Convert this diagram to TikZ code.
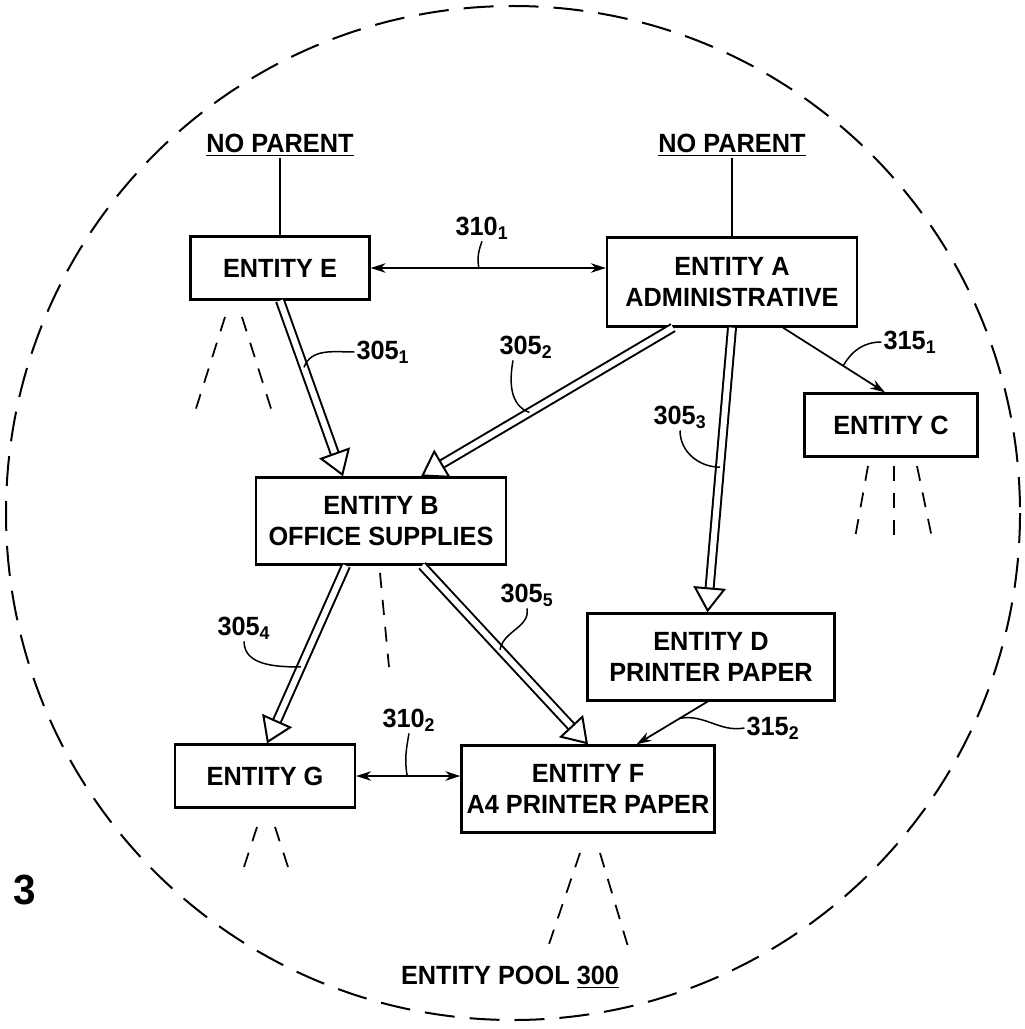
\documentclass[tikz,border=0pt]{standalone}
\usepackage{fontspec}
\setmainfont{Liberation Sans}[FakeStretch=0.96]
\usepackage{tikz}
\usetikzlibrary{arrows.meta,positioning,calc}

\begin{document}
\begin{tikzpicture}[x=0.2mm, y=-0.2mm,
    box/.style={draw, line width=0.45mm, align=center, inner sep=0pt,
      font=\fontsize{15}{18}\selectfont\bfseries},
    tag/.style={font=\fontsize{15}{18}\selectfont\bfseries, inner sep=1pt},
    hollow/.style={double, double distance=1.2mm, line width=0.4mm,
      -{Triangle[open, length=5mm, width=6.5mm, line width=0.4mm]}},
    link/.style={line width=0.35mm, -{Stealth[length=3mm, width=1.9mm]}},
    twoway/.style={line width=0.35mm,
      {Stealth[length=3mm, width=1.9mm]}-{Stealth[length=3mm, width=1.9mm]}},
    lead/.style={line width=0.3mm},
    kids/.style={line width=0.35mm, dash pattern=on 3mm off 2.4mm},
    pool/.style={line width=0.4mm, dash pattern=on 6mm off 3mm}]

  % entity pool boundary
  \useasboundingbox (0,0) rectangle (1025,1029);
  \draw[pool] (513,513) circle[radius=507];
  \node[font=\fontsize{24}{28}\selectfont\bfseries] (fig) at (25,890) {3};
  \node[tag] (poolname) at (510,977) {ENTITY POOL \underline{300}};

  % entities
  \node[tag] (np1) at (280,145) {\underline{NO PARENT}};
  \node[tag] (np2) at (732,145) {\underline{NO PARENT}};
  \node[box, minimum width=35.8mm, minimum height=12.6mm] (e) at (280,268) {ENTITY E};
  \node[box, minimum width=50mm, minimum height=17.8mm] (a) at (732,282) {ENTITY A\\ADMINISTRATIVE};
  \node[box, minimum width=34.6mm, minimum height=12.6mm] (c) at (891,425) {ENTITY C};
  \node[box, minimum width=50mm, minimum height=17.4mm] (b) at (381,521) {ENTITY B\\OFFICE SUPPLIES};
  \node[box, minimum width=49.4mm, minimum height=17.4mm] (d) at (711,657) {ENTITY D\\PRINTER PAPER};
  \node[box, minimum width=36mm, minimum height=12.6mm] (g) at (265,776) {ENTITY G};
  \node[box, minimum width=50.6mm, minimum height=17.4mm] (f) at (588,789) {ENTITY F\\A4 PRINTER PAPER};

  % parent links
  \draw[lead] (np1.south) -- (e.north);
  \draw[lead] (np2.south) -- (a.north);
  \draw[hollow] (e.south) -- coordinate[pos=0.38] (k1) ([xshift=-7.6mm]b.north);
  \draw[hollow] ([xshift=-11.8mm]a.south) -- coordinate[pos=0.57] (k2) ([xshift=8mm]b.north);
  \draw[hollow] (a.south) -- coordinate[pos=0.49] (k3) ([xshift=-0.7mm]d.north);
  \draw[hollow] ([xshift=-7mm]b.south) -- coordinate[pos=0.57] (k4) ([xshift=0.4mm]g.north);
  \draw[hollow] ([xshift=8.2mm]b.south) -- coordinate[pos=0.47] (k5) (f.north);

  % peer and other links
  \draw[twoway] (e.east) -- coordinate[pos=0.46] (m1) (a.west |- e.east);
  \draw[twoway] (g.east) -- coordinate[pos=0.49] (m2) (g.east -| f.west);
  \draw[link] ([xshift=10.2mm]a.south) -- coordinate[pos=0.59] (n1) ([xshift=-1.2mm]c.north);
  \draw[link] ([xshift=-0.7mm]d.south) -- coordinate[pos=0.39] (n2) ([xshift=9.7mm]f.north);

  % reference numerals
  \node[tag] (l1) at (383,352) {305\textsubscript{1}};
  \node[tag] (l2) at (526,347) {305\textsubscript{2}};
  \node[tag] (l3) at (680,417) {305\textsubscript{3}};
  \node[tag] (l4) at (244,628) {305\textsubscript{4}};
  \node[tag] (l5) at (527,595) {305\textsubscript{5}};
  \node[tag] (p1) at (482,228) {310\textsubscript{1}};
  \node[tag] (p2) at (409,720) {310\textsubscript{2}};
  \node[tag] (q1) at (910,342) {315\textsubscript{1}};
  \node[tag] (q2) at (773,728) {315\textsubscript{2}};
  \draw[lead] (l1.west) to[out=180, in=70] (k1);
  \draw[lead] ([xshift=-2.6mm]l2.south) to[out=-100, in=160] (k2);
  \draw[lead] (l3.south) to[out=-90, in=180] (k3);
  \draw[lead] (l4.south) to[out=-90, in=180] (k4);
  \draw[lead] (l5.south) to[out=-80, in=80] (k5);
  \draw[lead] (p1.south) to[out=-110, in=100] (m1);
  \draw[lead] (p2.south) to[out=-100, in=100] (m2);
  \draw[lead] (q1.west) to[out=180, in=60] (n1);
  \draw[lead] (q2.west) to[out=190, in=10] (n2);

  % further children
  \draw[kids] (225,317) -- (193,418);
  \draw[kids] (242,317) -- (274,418);
  \draw[kids] (868,466) -- (855,538);
  \draw[kids] (894,466) -- (894,538);
  \draw[kids] (917,466) -- (932,538);
  \draw[kids] (380,573) -- (389,667);
  \draw[kids] (257,827) -- (243,870);
  \draw[kids] (275,827) -- (289,870);
  \draw[kids] (580,853) -- (547,950);
  \draw[kids] (600,853) -- (629,950);
\end{tikzpicture}
\end{document}
